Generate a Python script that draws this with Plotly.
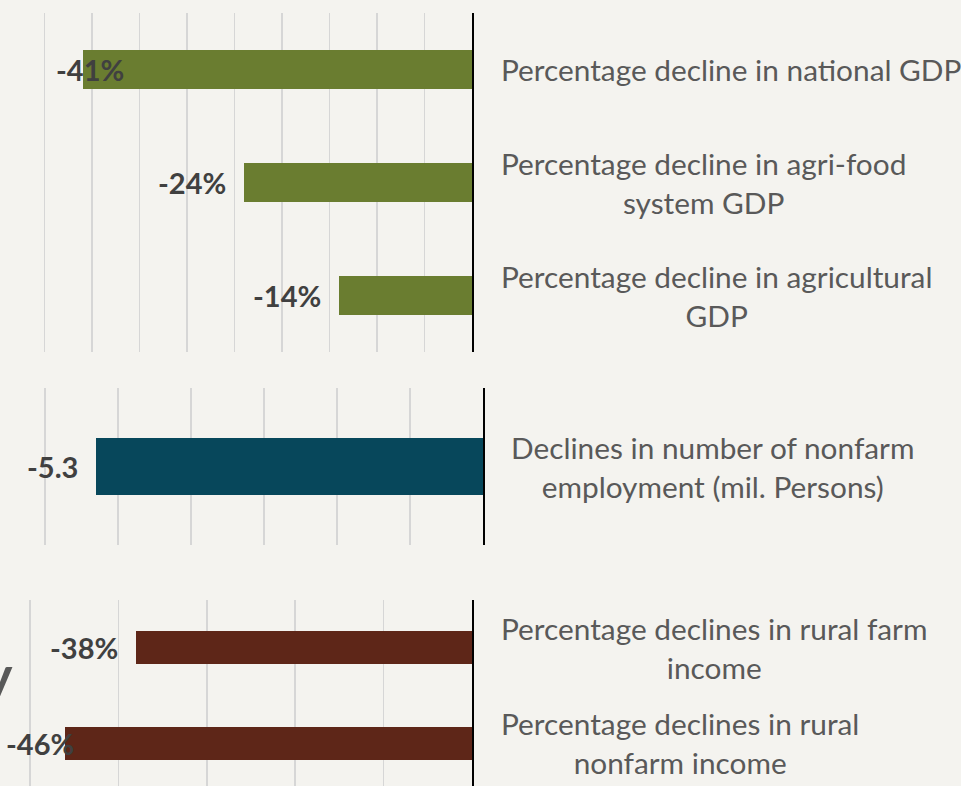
import plotly.graph_objects as go

W, H = 961, 786
BG = "#F4F3EF"
GRID = "#D6D6D6"
FONT = "Lato"

# ---- data ----
gdp_cats = ["Percentage decline in national GDP",
            "Percentage decline in agri-food<br>system GDP",
            "Percentage decline in agricultural<br>GDP"]
gdp_vals = [-41, -24, -14]
gdp_text = ["-41%", "-24%", "-14%"]

emp_cats = ["Declines in number of nonfarm<br>employment (mil. Persons)"]
emp_vals = [-5.3]
emp_text = ["-5.3"]

inc_cats = ["Percentage declines in rural farm<br>income",
            "Percentage declines in rural<br>nonfarm income"]
inc_vals = [-38, -46]
inc_text = ["-38%", "-46%"]

# ---- styling / placement ----
def px_x(p):
    return p / W

def px_y(p):
    return 1 - p / H

panels = [
    dict(cats=gdp_cats, vals=gdp_vals, text=gdp_text, color="#6A7D30",
         left_px=44.5, right_px=472, ydom=[px_y(352), px_y(13)],
         xmin=-45, dtick=5, yr=[2.5, -0.5], width=0.345, lab_x=499),
    dict(cats=emp_cats, vals=emp_vals, text=emp_text, color="#07475B",
         left_px=45, right_px=483, ydom=[px_y(545), px_y(388)],
         xmin=-6, dtick=1, yr=[0.5, -0.5], width=0.357, lab_x=509),
    dict(cats=inc_cats, vals=inc_vals, text=inc_text, color="#5E2618",
         left_px=30, right_px=472, ydom=[0, px_y(600)],
         xmin=-50, dtick=10, yr=[-0.5 + 186 / 95.5, -0.5], width=0.35, lab_x=499),
]

# label placement overrides (anchor, shift in px relative to bar end)
label_override = {"-41%": ("left", -28.5), "-46%": ("left", -61)}
PAD = 3  # px of extra room on the left so the edge gridline is drawn

fig = go.Figure()
annotations = []
layout_axes = {}
for i, p in enumerate(panels, start=1):
    sx = "" if i == 1 else str(i)
    xa, ya = "x" + sx, "y" + sx
    pxu = (p["right_px"] - p["left_px"]) / (-p["xmin"])
    xr = [p["xmin"] - PAD / pxu, 0]
    xdom = [px_x(p["left_px"] - PAD), px_x(p["right_px"])]
    fig.add_trace(go.Bar(
        x=p["vals"], y=p["cats"], orientation="h",
        marker=dict(color=p["color"], line=dict(width=0)),
        width=p["width"], xaxis=xa, yaxis=ya, hoverinfo="skip",
    ))
    layout_axes["xaxis" + sx] = dict(
        domain=xdom, range=xr, dtick=p["dtick"], tick0=0,
        showgrid=True, gridcolor=GRID, gridwidth=1.6,
        zeroline=False, showticklabels=False, ticks="", showline=False,
        anchor=ya, fixedrange=True,
    )
    layout_axes["yaxis" + sx] = dict(
        domain=p["ydom"], range=p["yr"], type="category",
        categoryorder="array", categoryarray=p["cats"],
        side="right", showline=True, linecolor="#000000", linewidth=2,
        showgrid=False, zeroline=False, showticklabels=False, ticks="",
        anchor=xa, fixedrange=True,
    )
    for c, v, t in zip(p["cats"], p["vals"], p["text"]):
        anchor, shift = label_override.get(t, ("right", -16))
        annotations.append(dict(
            x=v, y=c, xref=xa, yref=ya, text=t, showarrow=False,
            xanchor=anchor, xshift=shift, yanchor="middle",
            font=dict(family=FONT, size=29, color="#404040", weight="bold"),
        ))
        annotations.append(dict(
            x=px_x(p["lab_x"]), y=c, xref="paper", yref=ya, text=c,
            showarrow=False, xanchor="left", yanchor="middle", align="center",
            font=dict(family=FONT, size=29.8, color="#595959"),
        ))

# partially visible heading glyph at left edge
annotations.append(dict(
    x=px_x(15), y=px_y(674), xref="paper", yref="paper", text="y",
    showarrow=False, xanchor="right", yanchor="middle",
    font=dict(family=FONT, size=54, color="#595959", weight="bold"),
))

fig.update_layout(
    width=W, height=H, margin=dict(l=0, r=0, t=0, b=0),
    paper_bgcolor=BG, plot_bgcolor=BG, showlegend=False,
    bargap=0, annotations=annotations, **layout_axes,
)

fig.write_html(
    "out.html",
    config={"displayModeBar": False, "staticPlot": True},
    post_script="document.body.style.margin='0';document.body.style.padding='0';"
                "document.body.style.background='" + BG + "';",
)
